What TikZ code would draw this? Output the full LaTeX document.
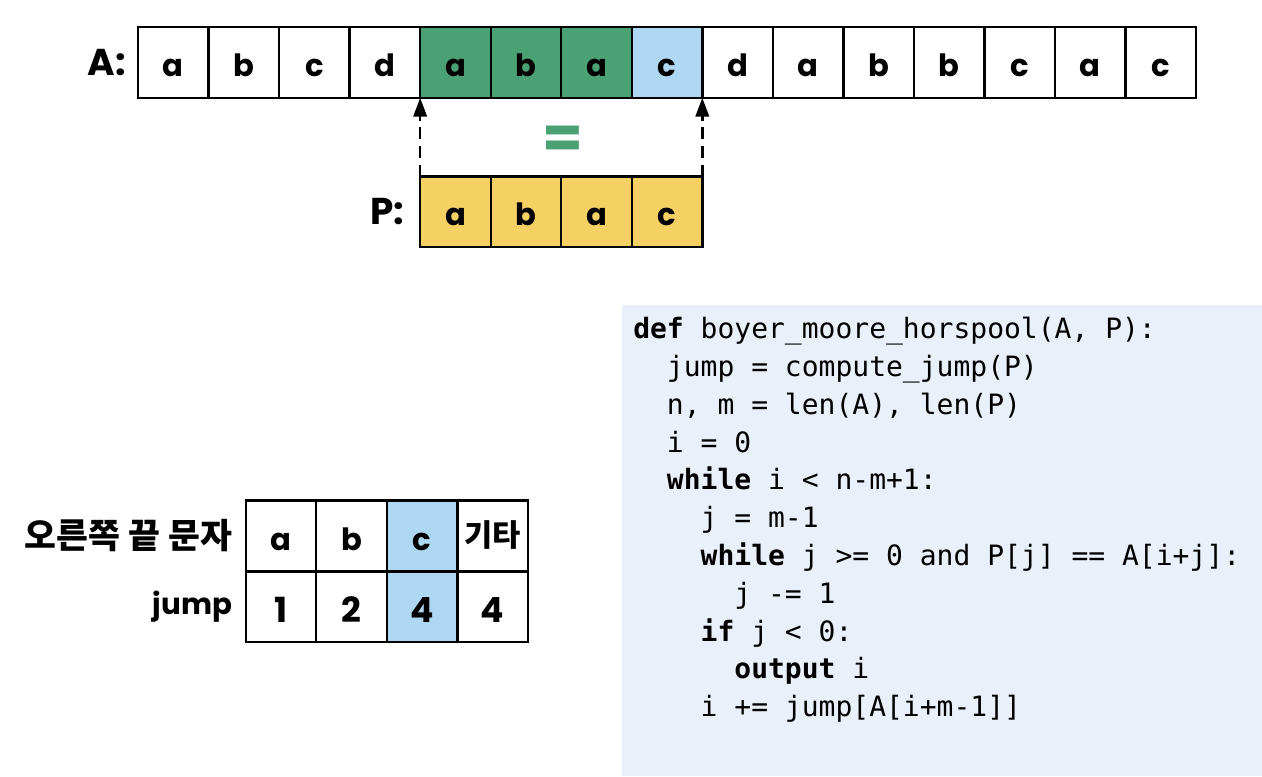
\documentclass[tikz,border=0pt]{standalone}
\usepackage{fontspec}
\setmainfont{Poppins}
\setmonofont{DejaVu Sans Mono}
\newfontfamily\kofont{Noto Sans CJK KR}
\usetikzlibrary{positioning, arrows.meta}

\definecolor{matchgreen}{HTML}{4AA174}
\definecolor{lastblue}{HTML}{AED7F2}
\definecolor{patyellow}{HTML}{F5D062}
\definecolor{codebg}{HTML}{EAF0F9}

\begin{document}
\begin{tikzpicture}[
    x=0.75pt, y=-0.75pt,
    node distance=0pt,
    cell/.style={rectangle, draw=black, line width=1.8pt, outer sep=0pt, inner sep=0pt, minimum width=52.9pt, minimum height=53pt, text height=21pt, text depth=0pt, font=\fontsize{23}{23}\selectfont\bfseries},
    numcell/.style={cell, text height=24pt, font=\fontsize{26}{26}\selectfont\bfseries},
    label/.style={font=\fontsize{28}{28}\selectfont\bfseries, inner sep=0pt},
    codetext/.style={align=left, inner sep=0pt, font=\ttfamily\fontsize{21}{28.35}\selectfont},
    arrow/.style={-{Triangle[length=14pt, width=10pt]}, line width=1.8pt, dash pattern=on 9pt off 5pt}
]
\useasboundingbox (0,0) rectangle (1262,776);

% Text array
\node (A1) [cell] at (173.3,62.5) {a};
\node (A2) [cell, right=of A1] {b};
\node (A3) [cell, right=of A2] {c};
\node (A4) [cell, right=of A3] {d};
\node (A5) [cell, fill=matchgreen, right=of A4] {a};
\node (A6) [cell, fill=matchgreen, right=of A5] {b};
\node (A7) [cell, fill=matchgreen, right=of A6] {a};
\node (A8) [cell, fill=lastblue, right=of A7] {c};
\node (A9) [cell, right=of A8] {d};
\node (A10) [cell, right=of A9] {a};
\node (A11) [cell, right=of A10] {b};
\node (A12) [cell, right=of A11] {b};
\node (A13) [cell, right=of A12] {c};
\node (A14) [cell, right=of A13] {a};
\node (A15) [cell, right=of A14] {c};
\node (ALabel) [label, left=9pt of A1] {A:};

% Pattern
\node (P1) [cell, fill=patyellow, below=59pt of A5] {a};
\node (P2) [cell, fill=patyellow, right=of P1] {b};
\node (P3) [cell, fill=patyellow, right=of P2] {a};
\node (P4) [cell, fill=patyellow, right=of P3] {c};
\node (PLabel) [label, left=12pt of P1] {P:};

\node (Equal) [text=matchgreen, font=\fontsize{44}{44}\selectfont\bfseries, inner sep=0pt] at (563,142) {=};

% Arrows
\draw [arrow] (P1.north west) -- (A5.south west);
\draw [arrow] (P4.north east) -- (A8.south east);

% Jump table
\node (HeadA) [cell, text height=22pt] at (281,536) {a};
\node (HeadB) [cell, text height=22pt, right=of HeadA] {b};
\node (HeadC) [cell, text height=22pt, fill=lastblue, right=of HeadB] {c};
\node (HeadEtc) [cell, right=of HeadC, text height=17pt, text depth=2pt, font=\kofont\bfseries\fontsize{23}{23}\selectfont] {기타};
\node (JumpA) [numcell, below=of HeadA] {1};
\node (JumpB) [numcell, below=of HeadB] {2};
\node (JumpC) [numcell, fill=lastblue, below=of HeadC] {4};
\node (JumpEtc) [numcell, below=of HeadEtc] {4};
\node (HeadLabel) [left=10pt of HeadA, inner sep=0pt, font=\kofont\bfseries\fontsize{26}{26}\selectfont] {오른쪽 끝 문자};
\node (JumpLabel) [left=10pt of JumpA, inner sep=0pt, font=\fontsize{22}{22}\selectfont\bfseries] {jump};

% Code
\node (CodeBg) [fill=codebg, minimum width=480pt, minimum height=353.25pt, inner sep=0pt] at (942,540.5) {};
\node (Code) [codetext, anchor=base west] at (633,716.7) {\textbf{def} boyer\_moore\_horspool(A, P):\\
~~jump = compute\_jump(P)\\
~~n, m = len(A), len(P)\\
~~i = 0\\
~~\textbf{while} i < n-m+1:\\
~~~~j = m-1\\
~~~~\textbf{while} j >= 0 and P[j] == A[i+j]:\\
~~~~~~j -= 1\\
~~~~\textbf{if} j < 0:\\
~~~~~~\textbf{output} i\\
~~~~i += jump[A[i+m-1]]};

\end{tikzpicture}
\end{document}
